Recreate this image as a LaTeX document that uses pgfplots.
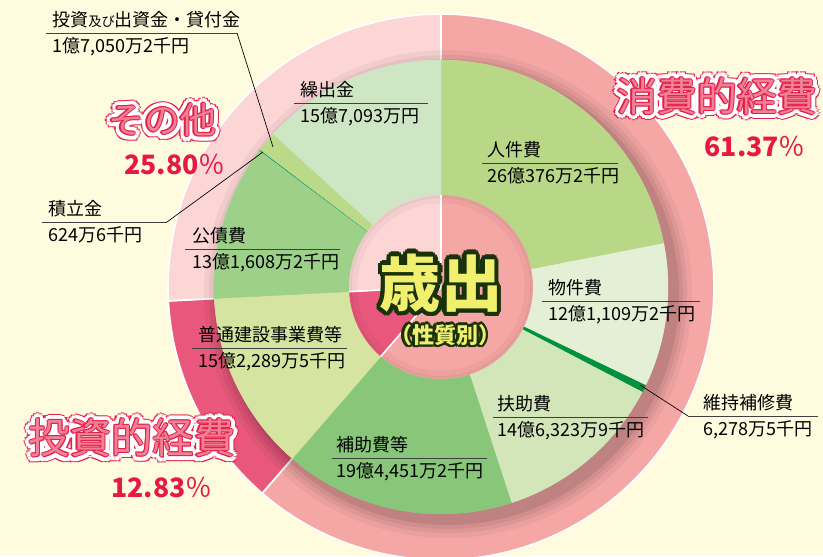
\documentclass[border=0pt]{standalone}
\usepackage{fontspec}
\setmainfont{Noto Sans CJK JP}
\usepackage{pgfplots}
\pgfplotsset{compat=1.18}
\usepackage{pgfplotstable}
\usetikzlibrary{calc}

\definecolor{bg}{RGB}{254,251,222}
\definecolor{outA}{RGB}{244,167,165}
\definecolor{outB}{RGB}{233,88,124}
\definecolor{outC}{RGB}{252,213,213}
\definecolor{seg0}{RGB}{184,215,135}
\definecolor{seg1}{RGB}{228,240,214}
\definecolor{seg2}{RGB}{0,145,60}
\definecolor{seg3}{RGB}{210,230,186}
\definecolor{seg4}{RGB}{136,199,121}
\definecolor{seg5}{RGB}{213,228,160}
\definecolor{seg6}{RGB}{157,208,137}
\definecolor{seg7}{RGB}{0,150,120}
\definecolor{seg8}{RGB}{187,218,137}
\definecolor{seg9}{RGB}{207,230,196}
\definecolor{ringred}{RGB}{228,30,75}
\definecolor{wordpink}{RGB}{241,130,150}
\definecolor{pct}{RGB}{230,25,70}
\definecolor{hubyellow}{RGB}{240,240,110}
\definecolor{hubgreen}{RGB}{25,50,10}

% 歳出 (億円)
\pgfplotstableread{
key value
jinken 26.03762
buken 12.11092
iji 0.62785
fujo 14.63239
hojo 19.44512
futsu 15.22895
kosai 13.16082
tsumi 0.06246
toshi 1.70502
kuri 15.70930
}\spend

\def\pxu{0.75pt}
\def\cx{441}
\def\cy{269}
\newcommand\SA[1]{\csname sa#1\endcsname}
\newcommand\EA[1]{\csname ea#1\endcsname}
% start angle, end angle, inner r, outer r, style
\newcommand\annulus[5]{%
  \path[#5] (axis cs:\cx,\cy) ++({#1}:{#4*\pxu}) arc[start angle={#1}, end angle={#2}, radius={#4*\pxu}]
    -- ++({#2}:{(#3-#4)*\pxu}) arc[start angle={#2}, end angle={#1}, radius={#3*\pxu}] -- cycle;}

\newcommand\lf{\fontsize{13.5}{16}\selectfont}
% x, underline y, line x1, line x2, name, amount
\newcommand\lab[6]{%
  \draw[black!75, line width=0.6pt] (#3,#2) -- (#4,#2);
  \node[anchor=base west, inner sep=0, font=\lf] at ({#1},{#2-6}) {#5};
  \node[anchor=base west, inner sep=0, font=\lf] at ({#1},{#2+20}) {#6};}

\newcommand\bigword[4]{%
  \foreach \a in {0,30,...,330}{\node[text=ringred,font=\fontsize{#3}{#3}\selectfont] at ($(#1,#2)+(\a:6.2)$) {#4};}
  \foreach \a in {0,30,...,330}{\node[text=white,font=\fontsize{#3}{#3}\selectfont] at ($(#1,#2)+(\a:5)$) {#4};}
  \foreach \a in {0,60,...,300}{\node[text=ringred,font=\fontsize{#3}{#3}\selectfont] at ($(#1,#2)+(\a:1.3)$) {#4};}
  \node[text=wordpink,font=\fontsize{#3}{#3}\selectfont] at (#1,#2) {#4};}

\newcommand\hubword[5]{%
  \foreach \a in {0,30,...,330}{\node[text=hubgreen,font=\bfseries\fontsize{#3}{#3}\selectfont] at ($(#1,#2)+(\a:#4)$) {#5};}
  \node[text=hubyellow,font=\bfseries\fontsize{#3}{#3}\selectfont] at (#1,#2) {#5};}

\begin{document}
\begin{tikzpicture}
% cumulative angles, clockwise from the top
\pgfplotstablegetrowsof{\spend}
\pgfmathtruncatemacro\last{\pgfplotsretval-1}
\gdef\total{0}
\foreach \i in {0,...,\last}{%
  \pgfplotstablegetelem{\i}{value}\of\spend
  \pgfmathsetmacro\tmp{\total+\pgfplotsretval}%
  \global\let\total\tmp}
\gdef\cum{0}
\foreach \i in {0,...,\last}{%
  \pgfplotstablegetelem{\i}{value}\of\spend
  \let\v\pgfplotsretval
  \pgfmathsetmacro\tmpS{90-\cum/\total*360}%
  \pgfmathsetmacro\tmp{\cum+\v}%
  \global\let\cum\tmp
  \pgfmathsetmacro\tmpE{90-\cum/\total*360}%
  \expandafter\xdef\csname sa\i\endcsname{\tmpS}%
  \expandafter\xdef\csname ea\i\endcsname{\tmpE}}

\begin{axis}[x=0.75pt, y=0.75pt, xmin=0, xmax=823, ymin=0, ymax=556, hide axis, clip=true]
\coordinate (BL) at (axis cs:0,0);
\coordinate (TR) at (axis cs:823,556);
\coordinate (TL) at (axis cs:0,556);
\fill[bg] (axis cs:0,0) rectangle (axis cs:823,556);
% outer ring: 消費的経費, 投資的経費, その他
\annulus{90}{\EA{4}}{226}{273}{fill=outA, draw=white, line width=1.3pt}
\annulus{\SA{5}}{\EA{5}}{226}{273}{fill=outB, draw=white, line width=1.3pt}
\annulus{\SA{6}}{-270}{226}{273}{fill=outC, draw=white, line width=1.3pt}
% shadow of the green ring
\fill[black, opacity=0.04] (axis cs:448,262) circle[radius=244*\pxu];
\fill[black, opacity=0.05] (axis cs:448,262) circle[radius=239*\pxu];
\fill[black, opacity=0.06] (axis cs:448,262) circle[radius=235*\pxu];
\fill[black, opacity=0.08] (axis cs:448,262) circle[radius=231*\pxu];
% green ring
\pgfplotsinvokeforeach{0,...,9}{%
  \annulus{\SA{#1}}{\EA{#1}}{91}{227}{fill=seg#1, draw=seg#1, line width=0.3pt}}
% hub
\annulus{90}{\EA{4}}{0.01}{92}{fill=outA}
\annulus{\SA{5}}{\EA{5}}{0.01}{92}{fill=outB}
\annulus{\SA{6}}{-270}{0.01}{92}{fill=outC}
\draw[black, opacity=0.05, line width=2pt] (axis cs:\cx,\cy) circle[radius=90.5*\pxu];
\draw[black, opacity=0.03, line width=5pt] (axis cs:\cx,\cy) circle[radius=87*\pxu];
\draw[white, line width=1.2pt] (axis cs:\cx,\cy) -- ++(90:{92*\pxu});
\draw[white, line width=1.2pt] (axis cs:\cx,\cy) -- ++({\EA{4}}:{92*\pxu});
\draw[white, line width=1.2pt] (axis cs:\cx,\cy) -- ++({\EA{5}}:{92*\pxu});
\end{axis}

\begin{scope}[shift={(TL)}, x=0.75pt, y=-0.75pt]
% leader lines
\draw[black, line width=0.5pt] (237,33) -- (273,147);
\draw[black, line width=0.5pt] (167,222) -- (263,152);
\draw[black, line width=0.5pt] (688,416) -- (640,385);
% labels
\lab{52}{33}{46}{237}{投資{\fontsize{10}{10}\selectfont 及び}出資金・貸付金}{1億7,050万2千円}
\lab{300}{103}{294}{428}{繰出金}{15億7,093万円}
\lab{487}{163}{482}{618}{人件費}{26億376万2千円}
\lab{548}{301}{542}{700}{物件費}{12億1,109万2千円}
\lab{703}{416}{688}{818}{維持補修費}{6,278万5千円}
\lab{497}{417}{493}{648}{扶助費}{14億6,323万9千円}
\lab{336}{458}{332}{487}{補助費等}{19億4,451万2千円}
\lab{192}{249}{185}{340}{公債費}{13億1,608万2千円}
\lab{198}{348}{192}{347}{普通建設事業費等}{15億2,289万5千円}
\lab{48}{222}{42}{167}{積立金}{624万6千円}
% group titles
\bigword{717}{96}{30}{消費的経費}
\bigword{162}{120}{27}{その他}
\bigword{132}{438}{31}{投資的経費}
\node[text=pct, font=\bfseries\fontsize{20}{20}\selectfont] at (755,147) {61.37{\mdseries ％}};
\node[text=pct, font=\bfseries\fontsize{20}{20}\selectfont] at (175,165) {25.80{\mdseries ％}};
\node[text=pct, font=\bfseries\fontsize{20}{20}\selectfont] at (162,488) {12.83{\mdseries ％}};
% centre
\hubword{441}{283}{46}{4.5}{歳出}
\hubword{445}{335}{16.5}{2.4}{（性質別）}
\end{scope}
\pgfresetboundingbox
\path[use as bounding box] (BL) rectangle (TR);
\end{tikzpicture}
\end{document}
